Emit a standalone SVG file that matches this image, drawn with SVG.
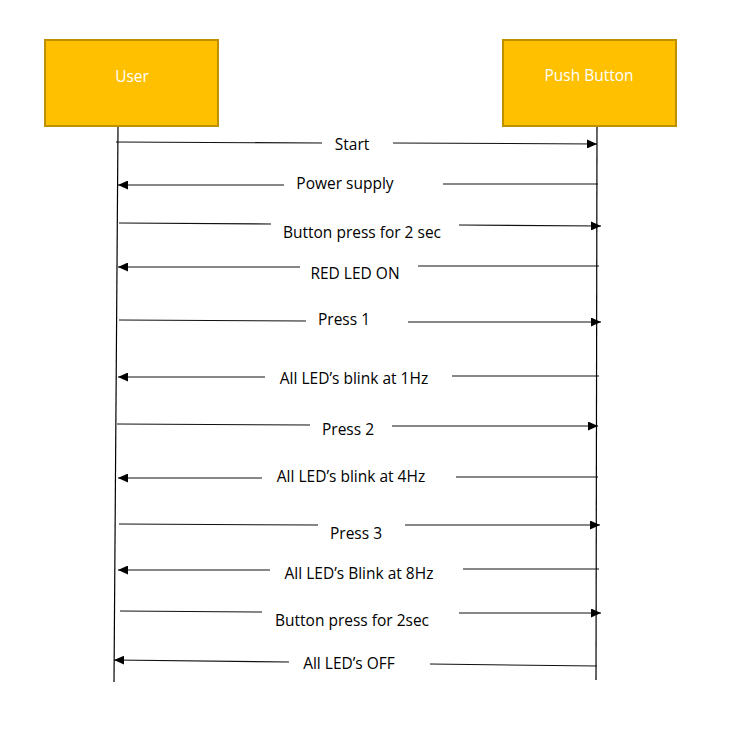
<svg xmlns="http://www.w3.org/2000/svg" width="737" height="737" viewBox="0 0 737 737">
<defs>
<marker id="arr" markerUnits="userSpaceOnUse" markerWidth="11" markerHeight="9" refX="10" refY="4.5" orient="auto">
<path d="M0,0 L10,4.5 L0,9 z" fill="#000"/>
</marker>
<style>
.box{fill:#FFC000;stroke:#BF9000;stroke-width:2}
.bt{font-family:"Open Sans","Liberation Sans",Arial,sans-serif;font-size:15.5px;fill:#fff;text-anchor:middle}
.life{stroke:#000;stroke-width:1.2;fill:none}
.m{stroke:#111;stroke-width:1.1;fill:none}
.a{marker-end:url(#arr)}
.t{font-family:"Open Sans","Liberation Sans",Arial,sans-serif;font-size:15.5px;fill:#000;text-anchor:middle}
</style>
</defs>
<rect width="737" height="737" fill="#fff"/>
<g id="user">
<rect class="box" x="45" y="40" width="173" height="86"/>
<text class="bt" x="132" y="82">User</text>
</g>
<g id="pushbutton">
<rect class="box" x="503" y="40" width="173" height="86"/>
<text class="bt" x="589" y="81">Push Button</text>
</g>
<g id="connectors">
<line class="life" x1="118" y1="127" x2="114" y2="682"/>
<line class="life" x1="597" y1="127" x2="596" y2="680"/>

<line class="m" x1="116" y1="142" x2="322" y2="143"/>
<line class="m a" x1="393" y1="143" x2="597" y2="144"/>

<line class="m a" x1="284" y1="185" x2="118" y2="185"/>
<line class="m" x1="443" y1="184" x2="598" y2="184"/>

<line class="m" x1="119" y1="223" x2="271" y2="224"/>
<line class="m a" x1="459" y1="225" x2="601" y2="226"/>

<line class="m a" x1="300" y1="267" x2="118" y2="267"/>
<line class="m" x1="418" y1="266" x2="599" y2="266"/>

<line class="m" x1="119" y1="320" x2="306" y2="321"/>
<line class="m a" x1="408" y1="322" x2="601" y2="322"/>

<line class="m a" x1="265" y1="377" x2="118" y2="377"/>
<line class="m" x1="452" y1="376" x2="599" y2="376"/>

<line class="m" x1="117" y1="424" x2="310" y2="425"/>
<line class="m a" x1="392" y1="426" x2="598" y2="426"/>

<line class="m a" x1="262" y1="478" x2="118" y2="478"/>
<line class="m" x1="456" y1="477" x2="598" y2="477"/>

<line class="m" x1="119" y1="524" x2="318" y2="525"/>
<line class="m a" x1="405" y1="525" x2="600" y2="525"/>

<line class="m a" x1="270" y1="570" x2="118" y2="570"/>
<line class="m" x1="463" y1="569" x2="599" y2="569"/>

<line class="m" x1="120" y1="611" x2="262" y2="612"/>
<line class="m a" x1="459" y1="613" x2="601" y2="613"/>

<line class="m a" x1="289" y1="662" x2="114" y2="660"/>
<line class="m" x1="430" y1="664" x2="597" y2="666"/>
</g>
<g id="labels">
<text class="t" x="352" y="150">Start</text>
<text class="t" x="345" y="189">Power supply</text>
<text class="t" x="362" y="238">Button press for 2 sec</text>
<text class="t" x="355" y="279">RED LED ON</text>
<text class="t" x="344" y="325">Press 1</text>
<text class="t" x="354" y="384">All LED’s blink at 1Hz</text>
<text class="t" x="348" y="435">Press 2</text>
<text class="t" x="351" y="482">All LED’s blink at 4Hz</text>
<text class="t" x="356" y="539">Press 3</text>
<text class="t" x="359" y="579">All LED’s Blink at 8Hz</text>
<text class="t" x="352" y="626">Button press for 2sec</text>
<text class="t" x="349" y="669">All LED’s OFF</text>
</g>
</svg>
